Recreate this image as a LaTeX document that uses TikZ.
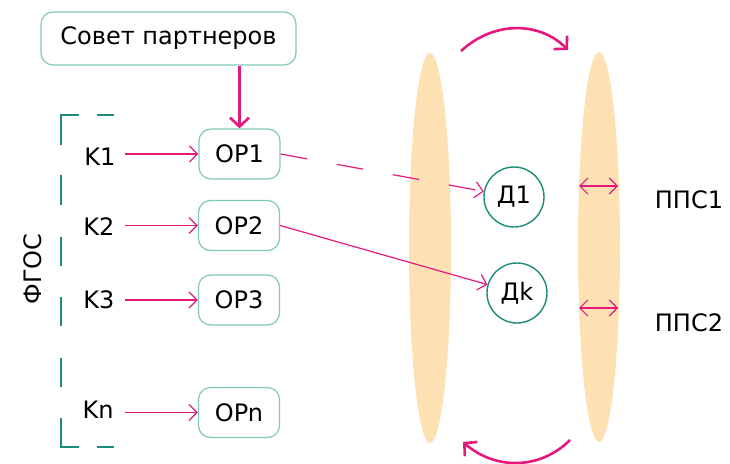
\documentclass[tikz,border=0pt]{standalone}
\usepackage{fontspec}
\setmainfont{DejaVu Sans}
\usetikzlibrary{arrows.meta}
\definecolor{mypink}{HTML}{E5187E}
\definecolor{boxteal}{HTML}{7FC8BC}
\definecolor{darkteal}{HTML}{1B8A78}
\definecolor{sand}{HTML}{FDE1B3}
\tikzset{
  txt/.style={font=\fontsize{24}{28}\selectfont, text=black},
  box/.style={txt, draw=boxteal, line width=1.2pt, rounded corners=12pt, fill=white, minimum width=81, minimum height=50, inner sep=0pt},
  circ/.style={txt, draw=darkteal, circle, line width=1.4pt, minimum size=60, inner sep=0pt, fill=white},
  thinarrow/.style={draw=mypink, line width=1.2pt, -{Straight Barb[length=8pt,width=16pt,line width=1.2pt]}},
  thickarrow/.style={draw=mypink, line width=2.6pt, -{Straight Barb[length=9pt,width=19pt,line width=2.6pt]}},
  dbl/.style={draw=mypink, line width=1.2pt, {Straight Barb[length=8pt,width=16pt,line width=1.2pt]}-{Straight Barb[length=8pt,width=16pt,line width=1.2pt]}},
  bracket/.style={draw=darkteal, line width=2.8pt},
  klabel/.style={txt, inner sep=0pt}
}
\begin{document}
\begin{tikzpicture}[x=1pt,y=-1pt]
\useasboundingbox (0,0) rectangle (730,463);
% ellipses
\fill[sand] (430,248) ellipse [x radius=21, y radius=195];
\fill[sand] (599,247) ellipse [x radius=21, y radius=195];
% bracket
\draw[bracket] (79,115) -- (61,115) -- (61,145);
\draw[bracket] (97,115) -- (114,115);
\draw[bracket] (61,175) -- (61,205);
\draw[bracket] (61,237) -- (61,266);
\draw[bracket] (61,297) -- (61,326);
\draw[bracket] (61,358) -- (61,387);
\draw[bracket] (61,418) -- (61,447) -- (79,447);
\draw[bracket] (97,447) -- (114,447);
\node[txt, rotate=90] (fgos) at (33,269) {ФГОС};
% boxes
\node[box, minimum width=255, minimum height=53] (sp) at (168.5,38.5) {Совет партнеров};
\node[box] (op1) at (239.5,154) {OP1};
\node[box] (op2) at (239,225.5) {OP2};
\node[box] (op3) at (239,300) {OP3};
\node[box] (opn) at (239,412.5) {OPn};
\node[klabel] (k1) at (100,157) {K1};
\node[klabel] (k2) at (99,227) {K2};
\node[klabel] (k3) at (99,300) {K3};
\node[klabel] (kn) at (98,410) {Kn};
\node[circ] (d1) at (514,197) {Д1};
\node[circ] (dk) at (517,293) {Дk};
\node[txt] (pps1) at (689,200) {ППС1};
\node[txt] (pps2) at (689,323) {ППС2};
% arrows
\draw[thickarrow] (sp.south -| op1) -- (op1.north);
\draw[thinarrow] (125,0 |- op1) -- (op1.west);
\draw[thinarrow] (125,0 |- op2) -- (op2.west);
\draw[thinarrow] (125,0 |- op3) -- (op3.west);
\draw[thinarrow] (125,0 |- opn) -- (opn.west);
\draw[thinarrow, dash pattern=on 27pt off 30pt] (op1.east) -- (d1);
\draw[thinarrow] (op2.east) -- (dk);
\coordinate (p1a) at (579,186);
\coordinate (p1b) at (618,186);
\coordinate (p2a) at (579,308);
\coordinate (p2b) at (618,308);
\draw[dbl] (p1a) -- (p1b);
\draw[dbl] (p2a) -- (p2b);
\coordinate (ta) at (461,51);
\coordinate (tb) at (568,50);
\coordinate (ba) at (570,440);
\coordinate (bb) at (463,442);
\draw[thickarrow] (ta) .. controls (495,20) and (540,22) .. (tb);
\draw[thickarrow] (ba) .. controls (540,470) and (495,470) .. (bb);
\end{tikzpicture}
\end{document}
